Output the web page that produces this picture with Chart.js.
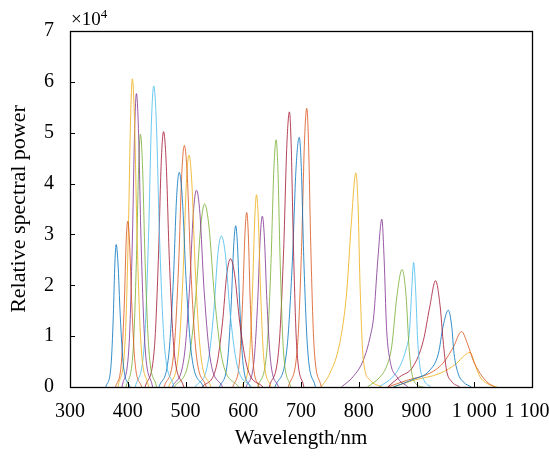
<!DOCTYPE html>
<html><head><meta charset="utf-8">
<script src="https://cdn.jsdelivr.net/npm/chart.js@4/dist/chart.umd.min.js"></script>
<style>html,body{margin:0;padding:0;background:#fff}</style>
</head><body>
<canvas id="c" width="549" height="456"></canvas>
<script>
// x tick values and labels
const xTickValues = [300, 400, 500, 600, 700, 800, 900, 1000, 1100];
const xTickLabels = ['300', '400', '500', '600', '700', '800', '900', '1 000', '1 100\u2002'];
const yTickLabels = ['0', '1', '2', '3', '4', '5', '6', '7'];

// Spectra: [wavelength (nm), relative power (x10^4)], one array per LED channel
const s380 = [[362,0],[371,0.42],[375,1.4],[377.8,2.46],[380,2.8],[383,2.46],[387,1.4],[392.5,0.42],[404,0]];
const s400 = [[379,0],[389,0.49],[394,1.63],[397.3,2.87],[400,3.26],[403,2.87],[407,1.63],[412.5,0.49],[424,0]];
const s408 = [[383,0],[395.5,0.91],[401,3.03],[405,5.33],[408,6.06],[411.5,5.33],[416,3.03],[422.5,0.91],[436,0]];
const s415 = [[390,0],[402.5,0.87],[408,2.89],[412,5.08],[415,5.77],[418.5,5.08],[423,2.89],[429.5,0.87],[443,0]];
const s422 = [[397,0],[409.5,0.75],[415,2.49],[419,4.37],[422,4.97],[425.5,4.37],[430,2.49],[436.5,0.75],[450,0]];
const s445 = [[413,0],[429,0.89],[436,2.96],[441,5.21],[445,5.92],[449.5,5.21],[455,2.96],[463,0.89],[480,0]];
const s462 = [[430,0],[446,0.75],[453,2.51],[458,4.42],[462,5.02],[466.5,4.42],[472,2.51],[480,0.75],[497,0]];
const s489 = [[454,0],[471,0.63],[479,2.11],[484.5,3.71],[489,4.22],[494.5,3.71],[501,2.11],[510.5,0.63],[531,0]];
const s498 = [[463,0],[480,0.71],[488,2.38],[493.5,4.18],[498,4.75],[503,4.18],[509,2.38],[518,0.71],[536,0]];
const s506 = [[471,0],[488,0.68],[496,2.28],[501.5,4.01],[506,4.56],[511,4.01],[517,2.28],[526,0.68],[544,0]];
const s519 = [[477,0],[497.5,0.58],[507,1.94],[513.5,3.41],[519,3.87],[525,3.41],[532,1.94],[542.5,0.58],[564,0]];
const s533 = [[481,0],[506,0.54],[518,1.8],[526.5,3.17],[533,3.6],[540.5,3.17],[550,1.8],[563.5,0.54],[592,0]];
const s562 = [[517,0],[538.5,0.45],[549,1.49],[556,2.61],[562,2.97],[569,2.61],[577,1.49],[589,0.45],[614,0]];
const s578 = [[529,0],[553,0.38],[564,1.26],[571.5,2.22],[578,2.52],[585,2.22],[594,1.26],[607,0.38],[634,0]];
const s587 = [[559,0],[572.5,0.48],[579,1.59],[583.5,2.79],[587,3.17],[590,2.79],[594,1.59],[599.5,0.48],[612,0]];
const s606 = [[582,0],[593.5,0.51],[599,1.72],[603,3.02],[606,3.43],[608.7,3.02],[612,1.72],[617,0.51],[627,0]];
const s623 = [[598,0],[610.5,0.57],[616,1.89],[620,3.33],[623,3.78],[626,3.33],[630,1.89],[635.5,0.57],[648,0]];
const s633 = [[605,0],[618.5,0.5],[625,1.68],[629.5,2.96],[633,3.36],[636.5,2.96],[641,1.68],[647.5,0.5],[661,0]];
const s657 = [[625,0],[641,0.73],[648,2.43],[653,4.28],[657,4.86],[660,4.28],[664,2.43],[669.5,0.73],[682,0]];
const s680 = [[645,0],[662,0.81],[670,2.71],[675.5,4.76],[680,5.41],[683,4.76],[687,2.71],[692.5,0.81],[705,0]];
const s697 = [[655,0],[675.5,0.74],[685,2.46],[691.5,4.32],[697,4.91],[700.5,4.32],[705,2.46],[711.5,0.74],[725,0]];
const s710 = [[678,0],[694,0.82],[701,2.74],[706,4.82],[710,5.48],[713,4.82],[717,2.74],[722.5,0.82],[735,0]];
const s795 = [[735,0],[750,0.27],[767,0.86],[779,1.85],[787,3.2],[795,4.21],[799,3.5],[802,2.1],[808,0.53],[820,0.13],[840,0]];
const s840 = [[770,0],[790,0.2],[808,0.53],[820,1.0],[826,1.4],[833,2.5],[840,3.3],[844,2.5],[848,1.19],[854,0.53],[866,0.2],[885,0]];
const s875 = [[815,0],[837,0.2],[848,0.4],[857,0.79],[866,1.78],[875,2.31],[882,1.78],[887,0.79],[892,0.27],[900,0.05],[912,0]];
const s895 = [[835,0],[859,0.2],[871,0.4],[882,0.75],[888,1.12],[892,1.97],[895,2.45],[899,1.78],[902,0.92],[906,0.4],[913,0.13],[925,0]];
const s933 = [[850,0],[871,0.2],[894,0.4],[912,0.92],[923,1.58],[933,2.09],[941,1.58],[946,0.92],[952,0.33],[960,0.12],[975,0]];
const s955 = [[860,0],[894,0.15],[923,0.33],[938,0.66],[946,1.19],[955,1.51],[961,1.19],[965,0.66],[972,0.27],[981,0.1],[995,0]];
const s978 = [[850,0],[883,0.13],[923,0.27],[946,0.47],[964,0.79],[978,1.09],[988,0.86],[998,0.53],[1010,0.27],[1022,0.1],[1035,0]];
const s993 = [[860,0],[894,0.13],[941,0.27],[970,0.47],[983,0.62],[993,0.68],[1001,0.45],[1010,0.2],[1022,0.07],[1040,0]];

const spectra = [s380,s400,s408,s415,s422,s445,s462,s489,s498,s506,s519,s533,s562,s578,s587,s606,s623,s633,s657,s680,s697,s710,s795,s840,s875,s895,s933,s955,s978,s993];

const B='rgba(0,114,189,0.8)', O='rgba(217,83,25,0.8)', Y='rgba(237,177,32,0.85)', P='rgba(126,47,142,0.8)',
      G='rgba(119,172,48,0.8)', L='rgba(77,190,238,0.85)', R='rgba(162,20,47,0.8)';
const seriesColors = [B,O,Y,P,G,L,R,B,O,Y,P,G,L,R,B,O,Y,P,G,R,B,O,Y,P,G,L,R,B,O,Y];

const FONT = 'Liberation Serif, Times New Roman, serif';

const datasets = spectra.map((d, i) => ({
  data: d,
  borderColor: seriesColors[i],
  borderWidth: 1,
  pointRadius: 0,
  fill: false,
  cubicInterpolationMode: 'monotone'
}));

const framePlugin = {
  id: 'frame',
  afterDraw(chart) {
    const {ctx, chartArea: a, scales: {x, y}} = chart;
    ctx.save();
    ctx.strokeStyle = '#000';
    ctx.lineWidth = 1;
    ctx.beginPath();
    for (let v = 1; v < 7; v++) {
      const py = Math.round(y.getPixelForValue(v)) + 0.5;
      ctx.moveTo(a.left, py); ctx.lineTo(a.left + 5, py);
    }
    for (const v of xTickValues) {
      if (v === 300 || v === 1100) continue;
      const px = Math.round(x.getPixelForValue(v)) + 0.5;
      ctx.moveTo(px, a.bottom); ctx.lineTo(px, a.bottom - 5);
    }
    ctx.stroke();
    ctx.lineWidth = 1.3;
    ctx.strokeRect(a.left + 0.5, a.top + 0.5, a.right - a.left, a.bottom - a.top);
    ctx.fillStyle = '#000';
    ctx.textBaseline = 'alphabetic';
    ctx.textAlign = 'left';
    ctx.font = '19px ' + FONT;
    ctx.fillText('\u00d710', a.left + 1, 25);
    const w = ctx.measureText('\u00d710').width;
    ctx.font = '13px ' + FONT;
    ctx.fillText('4', a.left + 1 + w, 18);
    ctx.restore();
  }
};

new Chart(document.getElementById('c'), {
  type: 'line',
  data: { datasets },
  options: {
    responsive: false,
    animation: false,
    devicePixelRatio: 1,
    layout: { padding: { left: 0, top: 31, right: 17, bottom: 0 } },
    plugins: { legend: { display: false }, tooltip: { enabled: false } },
    scales: {
      x: {
        type: 'linear', min: 300, max: 1100,
        afterFit: s => { s.height = 69; s.paddingLeft = 0; s.paddingRight = 0; },
        afterBuildTicks: s => { s.ticks = xTickValues.map(v => ({ value: v })); },
        ticks: {
          autoSkip: false, maxRotation: 0, padding: 13, color: '#000',
          font: { family: FONT, size: 20 },
          callback: v => xTickLabels[xTickValues.indexOf(v)]
        },
        grid: { display: false, drawTicks: false },
        border: { display: false },
        title: { display: true, text: 'Wavelength/nm', color: '#000', font: { family: FONT, size: 21 }, padding: { top: 0, bottom: 5 } }
      },
      y: {
        min: 0, max: 7,
        afterFit: s => { s.width = 70; s.paddingTop = 0; s.paddingBottom = 0; },
        ticks: {
          stepSize: 1, padding: 16, color: '#000',
          font: { family: FONT, size: 20 },
          callback: v => yTickLabels[v]
        },
        grid: { display: false, drawTicks: false },
        border: { display: false },
        title: { display: true, text: 'Relative spectral power', color: '#000', font: { family: FONT, size: 22 }, padding: { top: 6, bottom: 0 } }
      }
    }
  },
  plugins: [framePlugin]
});
</script>
</body></html>
